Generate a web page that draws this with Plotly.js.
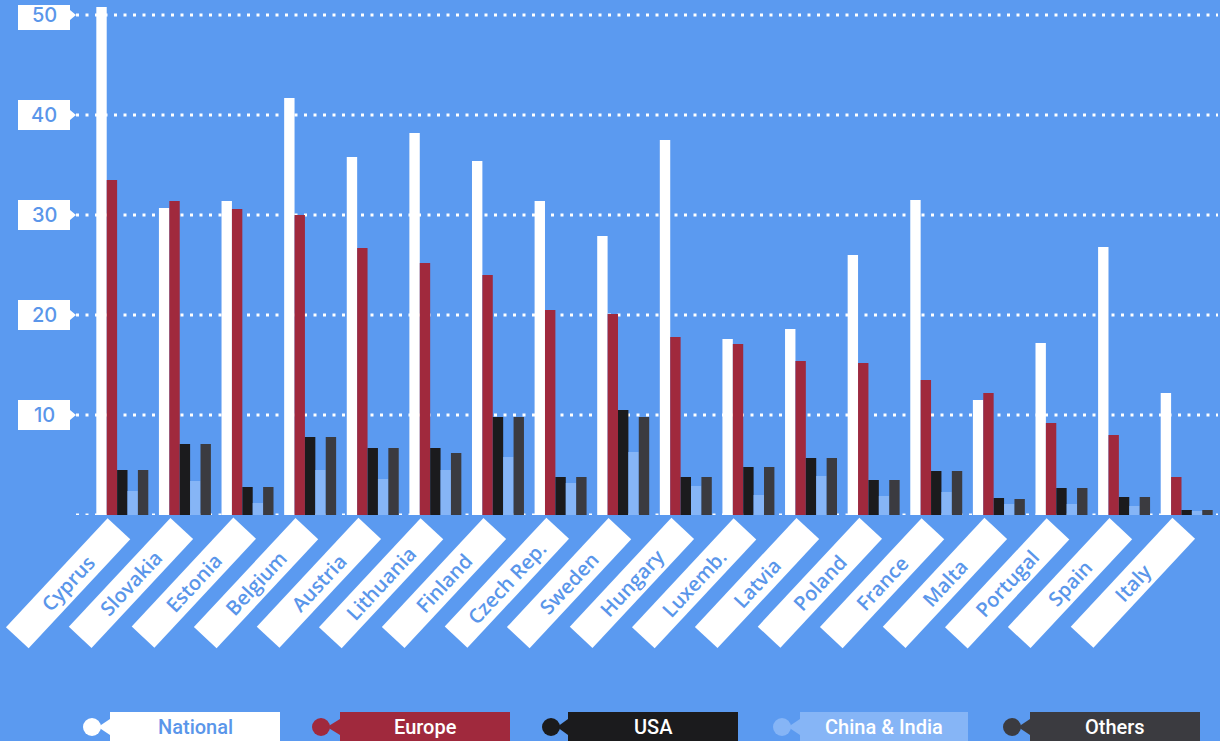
<!DOCTYPE html>
<html>
<head>
<meta charset="utf-8">
<script src="https://cdn.plot.ly/plotly-3.0.1.min.js"></script>
<style>
html,body{margin:0;padding:0;background:#5b9af0;}
#chart{width:1220px;height:741px;}
</style>
</head>
<body>
<div id="chart"></div>
<script>
const countries = ['Cyprus','Slovakia','Estonia','Belgium','Austria','Lithuania','Finland','Czech Rep.','Sweden','Hungary','Luxemb.','Latvia','Poland','France','Malta','Portugal','Spain','Italy'];
const national   = [50.8,30.7,31.4,41.7,35.8,38.2,35.4,31.4,27.9,37.5,17.6,18.6,26.0,31.5,11.5,17.2,26.8,12.2];
const europe     = [33.5,31.4,30.6,30.0,26.7,25.2,24.0,20.5,20.1,17.8,17.1,15.4,15.2,13.5,12.2,9.2,8.0,3.8];
const usa        = [4.5,7.1,2.8,7.8,6.7,6.7,9.8,3.8,10.5,3.8,4.8,5.7,3.5,4.4,1.7,2.7,1.8,0.5];
const chinaIndia = [2.4,3.4,1.2,4.5,3.6,4.5,5.8,3.2,6.3,2.9,2.0,3.9,1.9,2.3,1.1,1.1,0.9,0.4];
const others     = [4.5,7.1,2.8,7.8,6.7,6.2,9.8,3.8,9.8,3.8,4.8,5.7,3.5,4.4,1.6,2.7,1.8,0.5];
const seriesNames = ['National','Europe','USA','China & India','Others'];
const yTicks = [10,20,30,40,50];

const BG = '#5b9af0';
const TXT = '#5a96ea';
const colors = ['#ffffff','#a0293d','#1b1b1d','#86b5f6','#3b3b40'];
const legendText = [TXT,'#ffffff','#ffffff','#ffffff','#ffffff'];

// layout geometry (pixels)
const W = 1220, H = 741, L = 91, R = 2, T = 5, B = 226;
const PW = W - L - R, PH = H - T - B;
const px = x => (x - L) / PW;
const py = y => (H - B - y) / PH;

const allSeries = [national, europe, usa, chinaIndia, others];
const traces = allSeries.map((vals, i) => ({
  type: 'bar', x: countries, y: vals, name: seriesNames[i],
  marker: {color: colors[i], line: {width: 0}},
  showlegend: false, hoverinfo: 'x+y+name'
}));

const shapes = [];
const annotations = [];

// dotted gridlines
[0].concat(yTicks).forEach(v => {
  shapes.push({type: 'line', layer: 'below', xref: 'paper', yref: 'y',
    x0: px(76), x1: 1, y0: v, y1: v,
    line: {color: '#ffffff', width: 3, dash: '3px,6.5px'}});
});

// y tick label boxes
yTicks.forEach(v => {
  shapes.push({type: 'path', xref: 'paper', yref: 'y', xsizemode: 'pixel', ysizemode: 'pixel',
    xanchor: 0, yanchor: v,
    path: 'M -73,-15 L -21,-15 L -21,-5 L -15,0 L -21,5 L -21,15 L -73,15 Z',
    fillcolor: '#ffffff', line: {width: 0}});
  annotations.push({xref: 'paper', yref: 'y', x: 0, y: v, xshift: -47, showarrow: false,
    text: String(v), font: {family: 'Inter, sans-serif', size: 20, weight: 500, color: TXT},
    xanchor: 'center', yanchor: 'middle'});
});

// category labels (rotated tags)
countries.forEach(c => {
  annotations.push({xref: 'x', yref: 'paper', x: c, y: py(583), xshift: -54,
    showarrow: false, text: c, textangle: -47,
    width: 142, height: 24, borderpad: 3, bgcolor: '#ffffff', align: 'center',
    font: {family: 'Open Sans, sans-serif', size: 20, weight: 600, color: TXT},
    xanchor: 'center', yanchor: 'middle'});
});

// custom legend
const legCircle = [92, 321, 551, 782, 1012];
const legBox = [[110,280],[340,510],[568,738],[800,968],[1030,1200]];
const legY = 727;
seriesNames.forEach((n, i) => {
  const cx = legCircle[i], b = legBox[i];
  shapes.push({type: 'circle', xref: 'paper', yref: 'paper',
    x0: px(cx - 9), x1: px(cx + 9), y0: py(legY + 9), y1: py(legY - 9),
    fillcolor: colors[i], line: {width: 0}});
  shapes.push({type: 'path', xref: 'paper', yref: 'paper',
    path: `M ${px(cx + 6)},${py(legY)} L ${px(b[0])},${py(legY - 8)} L ${px(b[0])},${py(legY + 8)} Z`,
    fillcolor: colors[i], line: {width: 0}});
  shapes.push({type: 'rect', xref: 'paper', yref: 'paper',
    x0: px(b[0]), x1: px(b[1]), y0: py(746), y1: py(712),
    fillcolor: colors[i], line: {width: 0}});
  annotations.push({xref: 'paper', yref: 'paper', x: px((b[0] + b[1]) / 2), y: py(legY),
    showarrow: false, text: n,
    font: {family: 'Roboto, sans-serif', size: 20, weight: 500, color: legendText[i]},
    xanchor: 'center', yanchor: 'middle'});
});

const layout = {
  width: W, height: H,
  margin: {l: L, r: R, t: T, b: B, pad: 0},
  paper_bgcolor: BG, plot_bgcolor: BG,
  barmode: 'group', bargap: 0.17, bargroupgap: 0,
  xaxis: {type: 'category', range: [-0.5, countries.length - 0.5], autorange: false,
    showticklabels: false, showgrid: false, zeroline: false, showline: false, ticks: ''},
  yaxis: {range: [0, 51], autorange: false, showticklabels: false, showgrid: false, zeroline: false, showline: false, ticks: ''},
  shapes: shapes, annotations: annotations
};

Plotly.newPlot('chart', traces, layout, {displayModeBar: false, staticPlot: true});
</script>
</body>
</html>
